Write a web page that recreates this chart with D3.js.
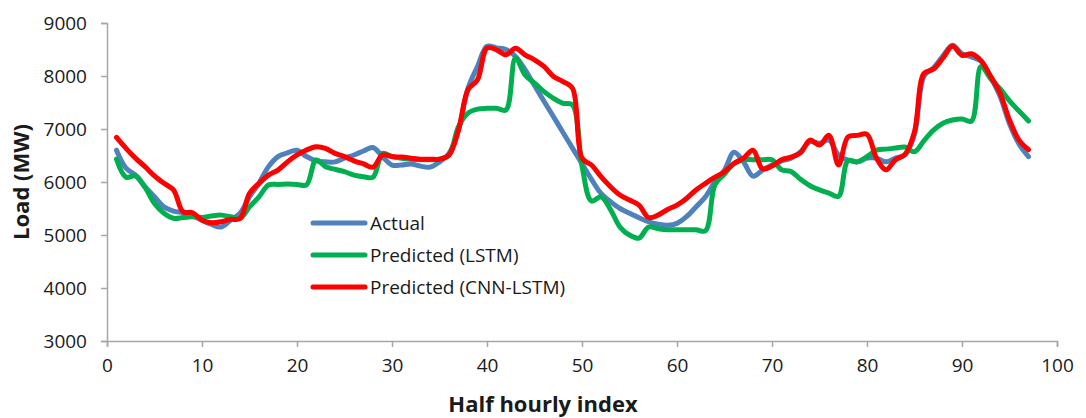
<!DOCTYPE html>
<html>
<head>
<meta charset="utf-8">
<script src="https://cdn.jsdelivr.net/npm/d3@7"></script>
<style>
  html, body { margin: 0; padding: 0; background: #ffffff; }
  svg { display: block; font-family: "Open Sans", "Liberation Sans", sans-serif; }
</style>
</head>
<body>
<svg id="chart" width="1086" height="418"></svg>
<script>
// Half-hourly index 1..97
const halfHourIndex = d3.range(1, 98);

// Load series in MW
const actualLoad = [
  6600, 6260, 6130, 5910, 5720, 5530, 5450, 5420, 5360, 5280,
  5200, 5150, 5280, 5410, 5720, 5980, 6290, 6480, 6550, 6600,
  6480, 6400, 6380, 6380, 6450, 6510, 6585, 6650, 6480, 6320,
  6320, 6340, 6300, 6280, 6380, 6540, 6980, 7770, 8180, 8560,
  8530, 8500, 8370, 8120, 7820, 7525, 7230, 6935, 6640, 6345,
  6050, 5785, 5630, 5500, 5410, 5325, 5250, 5205, 5185, 5220,
  5345, 5530, 5720, 6005, 6225, 6560, 6380, 6110, 6225, 6320,
  6400, 6450, 6570, 6760, 6730, 6790, 6510, 6415, 6380, 6450,
  6450, 6380, 6450, 6510, 6900, 8000, 8150, 8380, 8580, 8420,
  8360, 8280, 7980, 7620, 7100, 6720, 6480
];

const lstmLoad = [
  6430, 6090, 6115, 5900, 5595, 5410, 5315, 5330, 5345, 5330,
  5360, 5375, 5345, 5315, 5530, 5720, 5945, 5955, 5960, 5955,
  5945, 6415, 6290, 6240, 6195, 6130, 6100, 6090, 6540, 6480,
  6450, 6430, 6420, 6420, 6430, 6510, 7045, 7300, 7375, 7390,
  7390, 7360, 8340, 8020, 7865, 7705, 7580, 7485, 7455, 6300,
  5640, 5720, 5480, 5150, 5000, 4940, 5150, 5120, 5100, 5100,
  5100, 5100, 5080, 5950, 6150, 6350, 6420, 6420, 6420, 6420,
  6230, 6200, 6050, 5930, 5850, 5790, 5730, 6400, 6380, 6480,
  6600, 6620, 6640, 6660, 6570, 6780, 6980, 7110, 7170, 7190,
  7150, 8180, 7950, 7760, 7530, 7340, 7150
];

const cnnLstmLoad = [
  6840, 6635, 6450, 6290, 6115, 5975, 5850, 5440, 5420, 5280,
  5230, 5250, 5295, 5310, 5785, 5975, 6130, 6225, 6380, 6510,
  6605, 6665, 6635, 6540, 6480, 6400, 6340, 6280, 6510, 6480,
  6470, 6450, 6430, 6430, 6430, 6510, 6980, 7740, 7930, 8525,
  8495, 8400, 8525, 8400, 8305, 8180, 7990, 7895, 7770, 6450,
  6320, 6100, 5910, 5755, 5660, 5565, 5330, 5375, 5480, 5565,
  5690, 5850, 5975, 6090, 6195, 6350, 6450, 6600, 6250, 6300,
  6420, 6470, 6550, 6790, 6700, 6880, 6320, 6850, 6880, 6900,
  6450, 6230, 6420, 6520, 6950, 8050, 8130, 8340, 8560, 8390,
  8420, 8290, 8000, 7680, 7170, 6790, 6610
];

const seriesNames = ["Actual", "Predicted (LSTM)", "Predicted (CNN-LSTM)"];
const seriesColors = ["#4F81BD", "#00B050", "#FF0000"];

const xTicks = [0, 10, 20, 30, 40, 50, 60, 70, 80, 90, 100];
const yTicks = [3000, 4000, 5000, 6000, 7000, 8000, 9000];

const xTitle = "Half hourly index";
const yTitle = "Load (MW)";

// Layout
const width = 1086, height = 418;
const svg = d3.select("#chart");
const margin = { left: 107, right: width - 1057, top: 23, bottom: height - 341 };
const plotW = width - margin.left - margin.right;
const plotH = height - margin.top - margin.bottom;

const x = d3.scaleLinear().domain([0, 100]).range([margin.left, margin.left + plotW]);
const y = d3.scaleLinear().domain([3000, 9000]).range([margin.top + plotH, margin.top]);

const axisColor = "#A6A6A6";
const textColor = "#1a1a1a";

// Y axis
const yAxis = svg.append("g")
  .attr("transform", `translate(${margin.left},0)`)
  .call(d3.axisLeft(y).tickValues(yTicks).tickFormat(d3.format("d")).tickSize(6).tickPadding(14));
yAxis.select(".domain").attr("stroke", axisColor).attr("stroke-width", 1.5);
yAxis.selectAll(".tick line").attr("stroke", axisColor).attr("stroke-width", 1.5);
yAxis.selectAll(".tick text")
  .attr("fill", textColor)
  .style("font-size", "19px")
  .style("font-family", "'Open Sans', sans-serif");

// X axis
const xAxis = svg.append("g")
  .attr("transform", `translate(0,${margin.top + plotH})`)
  .call(d3.axisBottom(x).tickValues(xTicks).tickFormat(d3.format("d")).tickSize(6).tickPadding(12));
xAxis.select(".domain").attr("stroke", axisColor).attr("stroke-width", 1.5);
xAxis.selectAll(".tick line").attr("stroke", axisColor).attr("stroke-width", 1.5);
xAxis.selectAll(".tick text")
  .attr("fill", textColor)
  .style("font-size", "19px")
  .style("font-family", "'Open Sans', sans-serif");

// Axis titles
svg.append("text")
  .attr("x", width / 2)
  .attr("y", 412)
  .attr("text-anchor", "middle")
  .attr("fill", textColor)
  .style("font-size", "22px")
  .style("font-weight", "bold")
  .text(xTitle);

svg.append("text")
  .attr("transform", `translate(29,${margin.top + plotH / 2}) rotate(-90)`)
  .attr("text-anchor", "middle")
  .attr("fill", textColor)
  .style("font-size", "22px")
  .style("font-weight", "bold")
  .text(yTitle);

// Series lines
const seriesData = [actualLoad, lstmLoad, cnnLstmLoad];
const line = d3.line()
  .x((d, i) => x(halfHourIndex[i]))
  .y(d => y(d))
  .curve(d3.curveCatmullRom.alpha(0.5));

svg.append("g")
  .selectAll("path")
  .data(seriesData)
  .join("path")
  .attr("d", d => line(d))
  .attr("fill", "none")
  .attr("stroke", (d, i) => seriesColors[i])
  .attr("stroke-width", 5)
  .attr("stroke-linejoin", "round")
  .attr("stroke-linecap", "round");

// Legend
const legend = svg.append("g").attr("transform", "translate(313,223)");
const legendItems = legend.selectAll("g")
  .data(seriesNames)
  .join("g")
  .attr("transform", (d, i) => `translate(0,${i * 32})`);
legendItems.append("line")
  .attr("x1", 0).attr("x2", 52)
  .attr("y1", 0).attr("y2", 0)
  .attr("stroke", (d, i) => seriesColors[i])
  .attr("stroke-width", 5)
  .attr("stroke-linecap", "round");
legendItems.append("text")
  .attr("x", 57)
  .attr("y", 0)
  .attr("dy", "0.35em")
  .attr("fill", textColor)
  .style("font-size", "19px")
  .text(d => d);
</script>
</body>
</html>
